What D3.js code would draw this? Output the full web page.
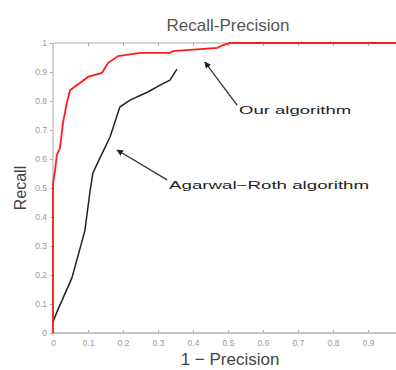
<!DOCTYPE html>
<html>
<head>
<meta charset="utf-8">
<script src="https://cdn.jsdelivr.net/npm/d3@7"></script>
<style>
  html, body { margin: 0; padding: 0; background: #fff; }
  svg { display: block; font-family: Arial, "Liberation Sans", sans-serif; }
</style>
</head>
<body>
<svg id="chart" width="396" height="370"></svg>
<script>
// 1 - precision / recall pairs
const ourFpr    = [0, 0, 0.006, 0.011, 0.02, 0.026, 0.029, 0.04, 0.049, 0.077, 0.1, 0.14, 0.157, 0.186, 0.249, 0.334, 0.343, 0.469, 0.486, 0.506, 1];
const ourRecall = [0, 0.517, 0.562, 0.614, 0.638, 0.7, 0.728, 0.797, 0.838, 0.862, 0.883, 0.897, 0.931, 0.955, 0.966, 0.966, 0.972, 0.983, 0.993, 1, 1];

const arFpr    = [0, 0.011, 0.054, 0.091, 0.106, 0.114, 0.134, 0.163, 0.191, 0.22, 0.271, 0.306, 0.334, 0.354];
const arRecall = [0.038, 0.072, 0.19, 0.352, 0.49, 0.552, 0.603, 0.676, 0.779, 0.803, 0.831, 0.855, 0.872, 0.91];

const xTicks = [0, 0.1, 0.2, 0.3, 0.4, 0.5, 0.6, 0.7, 0.8, 0.9];
const yTicks = [0, 0.1, 0.2, 0.3, 0.4, 0.5, 0.6, 0.7, 0.8, 0.9, 1];

// annotation: label, arrow head (data), arrow tail (data)
const notes = [
  { text: "Our algorithm", head: [0.434, 0.934], tail: [0.526, 0.786], width: 112 },
  { text: "Agarwal\u2212Roth algorithm", head: [0.183, 0.631], tail: [0.326, 0.528], width: 200 }
];

const svg = d3.select("#chart");
const mLeft = 53, mTop = 43, mBottom = 333, mRight = 403;

const x = d3.scaleLinear().domain([0, 1]).range([mLeft, mRight]);
const y = d3.scaleLinear().domain([0, 1]).range([mBottom, mTop]);

// title
svg.append("text")
  .attr("x", 228).attr("y", 31)
  .attr("text-anchor", "middle")
  .attr("font-size", 17).attr("fill", "#555")
  .text("Recall-Precision");

// box lines (top + bottom + left)
const axisColor = "#c4c4c4";
svg.append("line").attr("x1", mLeft).attr("x2", 396).attr("y1", mTop).attr("y2", mTop)
  .attr("stroke", axisColor).attr("stroke-width", 1.5);

const xAxis = svg.append("g")
  .attr("transform", `translate(0,${mBottom})`)
  .call(d3.axisBottom(x).tickValues(xTicks).tickSize(-3).tickPadding(7)
    .tickFormat(d => d === 0 ? "0" : d3.format(".1f")(d)));
xAxis.select(".domain").remove();
xAxis.append("line").attr("x1", mLeft).attr("x2", 396)
  .attr("stroke", axisColor).attr("stroke-width", 2);

const xTop = svg.append("g")
  .attr("transform", `translate(0,${mTop})`)
  .call(d3.axisTop(x).tickValues(xTicks.slice(1)).tickSize(-3).tickFormat(""));
xTop.select(".domain").remove();

const yAxis = svg.append("g")
  .attr("transform", `translate(${mLeft},0)`)
  .call(d3.axisLeft(y).tickValues(yTicks).tickSize(3).tickPadding(3)
    .tickFormat(d => d === 0 ? "0" : d === 1 ? "1" : d3.format(".1f")(d)));
yAxis.select(".domain").remove();
yAxis.append("line").attr("y1", mTop).attr("y2", mBottom)
  .attr("stroke", axisColor).attr("stroke-width", 1.5);

svg.selectAll(".tick line").attr("stroke", "#aaa");
svg.selectAll(".tick text").attr("fill", "#999").attr("font-size", 8.5);

// curves
const line = d3.line().x(d => x(d[0])).y(d => y(d[1]));

svg.append("path")
  .datum(arFpr.map((v, i) => [v, arRecall[i]]))
  .attr("d", line)
  .attr("fill", "none").attr("stroke", "#222").attr("stroke-width", 1.5);

svg.append("path")
  .datum(ourFpr.map((v, i) => [v, ourRecall[i]]))
  .attr("d", line)
  .attr("fill", "none").attr("stroke", "#ff1a1a").attr("stroke-width", 1.8);

// annotations
svg.append("defs").append("marker")
  .attr("id", "head").attr("viewBox", "0 0 10 10")
  .attr("refX", 9).attr("refY", 5)
  .attr("markerWidth", 5).attr("markerHeight", 5)
  .attr("orient", "auto")
  .append("path").attr("d", "M0,0L10,5L0,10z").attr("fill", "#222");

notes.forEach(n => {
  svg.append("line")
    .attr("x1", x(n.tail[0])).attr("y1", y(n.tail[1]))
    .attr("x2", x(n.head[0])).attr("y2", y(n.head[1]))
    .attr("stroke", "#333").attr("stroke-width", 1.3)
    .attr("marker-end", "url(#head)");
  svg.append("text")
    .attr("x", x(n.tail[0]) + 2).attr("y", y(n.tail[1]) + 9)
    .attr("font-size", 11).attr("fill", "#222")
    .attr("textLength", n.width).attr("lengthAdjust", "spacingAndGlyphs")
    .text(n.text);
});

// axis labels
svg.append("text")
  .attr("x", 230).attr("y", 365)
  .attr("text-anchor", "middle")
  .attr("font-size", 17).attr("fill", "#444")
  .text("1 \u2212 Precision");

svg.append("text")
  .attr("transform", "translate(26,188) rotate(-90)")
  .attr("text-anchor", "middle")
  .attr("font-size", 16).attr("fill", "#444")
  .text("Recall");
</script>
</body>
</html>
